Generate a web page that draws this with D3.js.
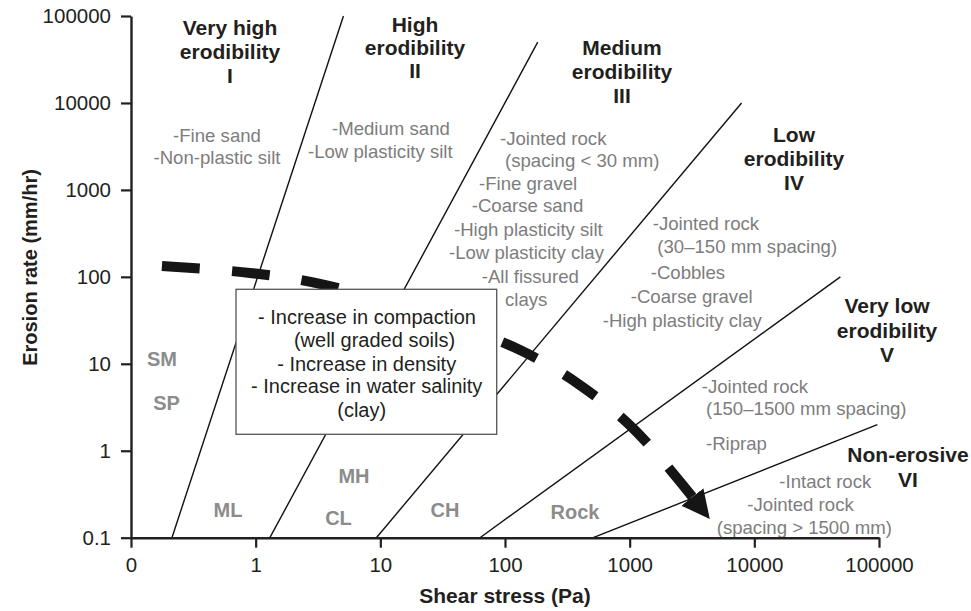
<!DOCTYPE html>
<html>
<head>
<meta charset="utf-8">
<script src="https://cdn.jsdelivr.net/npm/d3@7"></script>
<style>
  html, body { margin: 0; padding: 0; background: #ffffff; }
  svg { display: block; font-family: "Liberation Sans", Arial, Helvetica, sans-serif; }
</style>
</head>
<body>
<svg id="chart" width="971" height="611"></svg>
<script>
// ---- axis ticks ----
const xTickValues = [0.1, 1, 10, 100, 1000, 10000, 100000];
const xTickLabels = ["0", "1", "10", "100", "1000", "10000", "100000"];
const yTickValues = [0.1, 1, 10, 100, 1000, 10000, 100000];
const yTickLabels = ["0.1", "1", "10", "100", "1000", "10000", "100000"];

// ---- erodibility category boundaries (shear stress Pa, erosion rate mm/hr) ----
const boundaryNames = ["I/II", "II/III", "III/IV", "IV/V", "V/VI"];
const boundaryStart = [[0.213, 0.1], [1.3, 0.1], [9.3, 0.1], [63, 0.1], [510, 0.1]];
const boundaryEnd = [[5.06, 100000], [183, 50000], [7900, 10000], [49000, 100], [97000, 2]];

// ---- trend arrow (shear stress Pa, erosion rate mm/hr) ----
const trendShear = [0.177, 0.90, 3.28, 20.8, 132, 399, 1100, 3185];
const trendRate = [133, 111, 83, 39.5, 14.4, 5.7, 1.73, 0.294];

// ---- category titles ----
const categoryTitles = [
  ["Very high", "erodibility", "I"],
  ["High", "erodibility", "II"],
  ["Medium", "erodibility", "III"],
  ["Low", "erodibility", "IV"],
  ["Very low", "erodibility", "V"],
  ["Non-erosive", "VI"]
];

// ---- materials in each category ----
const materials = [
  ["-Fine sand", "-Non-plastic silt"],
  ["-Medium sand", "-Low plasticity silt"],
  ["-Jointed rock", "(spacing < 30 mm)", "-Fine gravel", "-Coarse sand",
   "-High plasticity silt", "-Low plasticity clay", "-All fissured", "clays"],
  ["-Jointed rock", "(30\u2013150 mm spacing)", "-Cobbles", "-Coarse gravel",
   "-High plasticity clay"],
  ["-Jointed rock", "(150\u20131500 mm spacing)", "-Riprap"],
  ["-Intact rock", "-Jointed rock", "(spacing > 1500 mm)"]
];

// ---- soil classification symbols ----
const soilCodes = ["SM", "SP", "ML", "MH", "CL", "CH", "Rock"];

// ---- note box ----
const noteLines = ["- Increase in compaction", "(well graded soils)", "- Increase in density",
                   "- Increase in water salinity", "(clay)"];

// ---- layout of the annotations (pixels) ----
const titleLayout = [
  { x: 230, y: [34.5, 58.7, 82.7] },
  { x: 415, y: [31.5, 55, 78.3] },
  { x: 622, y: [55, 79, 103.3] },
  { x: 794, y: [141.7, 166, 190] },
  { x: 887, y: [313.3, 337.5, 361.7] },
  { x: 908, y: [461.7, 486.7] }
];
const materialLayout = [
  [[217, 141.5, "middle"], [217, 163.5, "middle"]],
  [[332, 135, "start"], [308, 157.5, "start"]],
  [[500, 144.6, "start"], [505, 166.5, "start"], [479, 189.6, "start"], [471.7, 212.3, "start"],
   [454, 235.6, "start"], [449, 259, "start"], [481.7, 283, "start"], [505, 305.5, "start"]],
  [[652.7, 229.6, "start"], [657.3, 252.7, "start"], [650.7, 279, "start"], [630.7, 303, "start"],
   [602.7, 327.3, "start"]],
  [[701.7, 393, "start"], [706, 414.5, "start"], [706, 449.6, "start"]],
  [[779.3, 488.3, "start"], [747.3, 510.6, "start"], [716.7, 534, "start"]]
];
const codeLayout = [[162, 366], [166.5, 410], [228, 516.7], [354, 483], [338.5, 525], [445, 517], [575, 519]];
const noteBox = { x: 236, y: 289.3, w: 260.7, h: 145 };
const noteLayout = [[367, 324], [374.5, 347.3], [366.7, 370.7], [366.7, 393.3], [361.7, 416.7]];

const INK = "#231f20";
const GREY_TEXT = "#7d7d7d";
const GREY_CODE = "#8c8c8c";

const svg = d3.select("#chart");

// log-log scales
const x = d3.scaleLog().domain([0.1, 100000]).range([131, 879]);
const y = d3.scaleLog().domain([0.1, 100000]).range([537.7, 16]);

// category boundary lines
svg.append("g")
  .selectAll("line")
  .data(boundaryNames.map((n, i) => ({ name: n, a: boundaryStart[i], b: boundaryEnd[i] })))
  .join("line")
  .attr("x1", d => x(d.a[0])).attr("y1", d => y(d.a[1]))
  .attr("x2", d => x(d.b[0])).attr("y2", d => y(d.b[1]))
  .attr("stroke", "#111").attr("stroke-width", 1.4);

// trend arrow
const defs = svg.append("defs");
defs.append("marker")
  .attr("id", "trendHead")
  .attr("markerUnits", "userSpaceOnUse")
  .attr("viewBox", "0 -16 32 32")
  .attr("markerWidth", 32).attr("markerHeight", 32)
  .attr("refX", 0).attr("refY", 0)
  .attr("orient", "auto")
  .append("path")
  .attr("d", "M0,-14L28,0L0,14Z")
  .attr("fill", "#151515");

const trendPts = trendShear.map((s, i) => [s, trendRate[i]]);
const trendLine = d3.line().x(d => x(d[0])).y(d => y(d[1])).curve(d3.curveCatmullRom.alpha(0.5));
const trend = svg.append("path")
  .attr("d", trendLine(trendPts))
  .attr("fill", "none")
  .attr("stroke", "#151515")
  .attr("stroke-width", 10)
  .attr("marker-end", "url(#trendHead)");
// fit whole dashes along the path so that it starts and ends on a dash
const L = trend.node().getTotalLength();
const dash = 38;
const n = Math.max(1, Math.round((L - dash) / 68));
const gap = (L - dash) / n - dash;
trend.attr("stroke-dasharray", `${dash},${gap}`);

// note box
const note = svg.append("g");
note.append("rect")
  .attr("x", noteBox.x).attr("y", noteBox.y)
  .attr("width", noteBox.w).attr("height", noteBox.h)
  .attr("fill", "#ffffff").attr("stroke", "#555").attr("stroke-width", 1.3);
note.selectAll("text")
  .data(noteLines)
  .join("text")
  .attr("x", (d, i) => noteLayout[i][0])
  .attr("y", (d, i) => noteLayout[i][1])
  .attr("text-anchor", "middle")
  .attr("font-size", 20)
  .attr("fill", INK)
  .text(d => d);

// category titles
categoryTitles.forEach((lines, k) => {
  svg.append("g").selectAll("text")
    .data(lines)
    .join("text")
    .attr("x", titleLayout[k].x)
    .attr("y", (d, i) => titleLayout[k].y[i])
    .attr("text-anchor", "middle")
    .attr("font-size", 21)
    .attr("font-weight", "bold")
    .attr("fill", INK)
    .text(d => d);
});

// material lists
materials.forEach((lines, k) => {
  svg.append("g").selectAll("text")
    .data(lines)
    .join("text")
    .attr("x", (d, i) => materialLayout[k][i][0])
    .attr("y", (d, i) => materialLayout[k][i][1])
    .attr("text-anchor", (d, i) => materialLayout[k][i][2])
    .attr("font-size", 18.6)
    .attr("fill", GREY_TEXT)
    .text(d => d);
});

// soil symbols
svg.append("g").selectAll("text")
  .data(soilCodes)
  .join("text")
  .attr("x", (d, i) => codeLayout[i][0])
  .attr("y", (d, i) => codeLayout[i][1])
  .attr("text-anchor", "middle")
  .attr("font-size", 20)
  .attr("font-weight", "bold")
  .attr("fill", GREY_CODE)
  .text(d => d);

// axes
function styleAxis(g) {
  g.attr("font-family", null).attr("font-size", null);
  g.select(".domain").attr("stroke", INK).attr("stroke-width", 2.4);
  g.selectAll(".tick line").attr("stroke", INK).attr("stroke-width", 2.2);
  g.selectAll(".tick text")
    .attr("fill", INK)
    .style("font-family", '"Liberation Sans", Arial, Helvetica, sans-serif')
    .style("font-size", "20.5px");
}

svg.append("g")
  .attr("transform", `translate(0,${y(0.1)})`)
  .call(d3.axisBottom(x).tickValues(xTickValues)
    .tickFormat((d, i) => xTickLabels[i])
    .tickSize(10).tickSizeOuter(0).tickPadding(10))
  .call(styleAxis);

svg.append("g")
  .attr("transform", `translate(${x(0.1)},0)`)
  .call(d3.axisLeft(y).tickValues(yTickValues)
    .tickFormat((d, i) => yTickLabels[i])
    .tickSize(10).tickSizeOuter(0).tickPadding(10))
  .call(styleAxis);

// axis titles
svg.append("text")
  .attr("x", 505).attr("y", 603)
  .attr("text-anchor", "middle")
  .attr("font-size", 21).attr("font-weight", "bold").attr("fill", INK)
  .text("Shear stress (Pa)");

svg.append("text")
  .attr("transform", "translate(37,267.5) rotate(-90)")
  .attr("text-anchor", "middle")
  .attr("font-size", 20).attr("font-weight", "bold").attr("fill", INK)
  .text("Erosion rate (mm/hr)");
</script>
</body>
</html>
